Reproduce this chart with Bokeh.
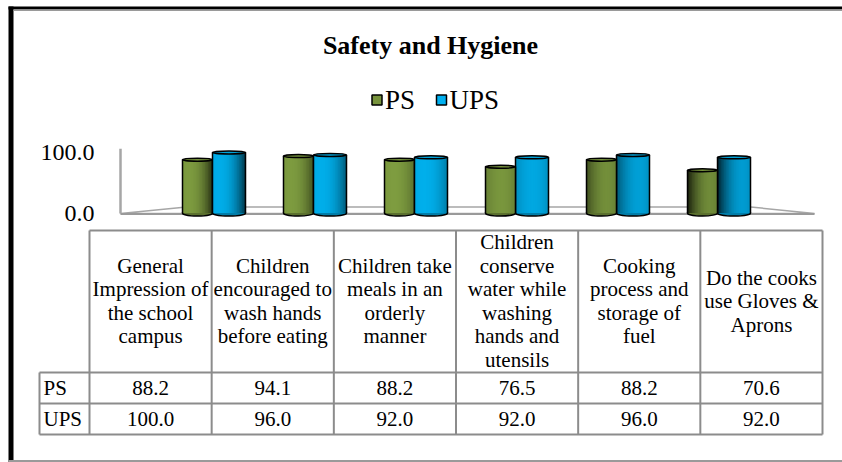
from bokeh.plotting import figure
from bokeh.models import Range1d, ColumnDataSource
from bokeh.embed import file_html
from bokeh.resources import INLINE
from bokeh.core.properties import value

# ---------------- data ----------------
TITLE = "Safety and Hygiene"
CATEGORIES = [
    "General\nImpression of\nthe school\ncampus",
    "Children\nencouraged to\nwash hands\nbefore eating",
    "Children take\nmeals in an\norderly\nmanner",
    "Children\nconserve\nwater while\nwashing\nhands and\nutensils",
    "Cooking\nprocess and\nstorage of\nfuel",
    "Do the cooks\nuse Gloves &\nAprons",
]
SERIES = ["PS", "UPS"]
PS = [88.2, 94.1, 88.2, 76.5, 88.2, 70.6]
UPS = [100.0, 96.0, 92.0, 92.0, 96.0, 92.0]
TICKS = [0.0, 100.0]

# ---------------- styles / layout ----------------
FONT = "Liberation Serif"
COLORS = {"PS": "#82A142", "UPS": "#00B4F2"}
LEGEND_COLORS = {"PS": "#77933C", "UPS": "#00B0F0"}
GRID = "#8c8c8c"
W, H = 842, 462

Y_ZERO = 212.5           # screen y of value 0
K = 0.605                # pixels per value unit

p = figure(width=W, height=H, output_backend="svg", toolbar_location=None,
           x_range=Range1d(0, W), y_range=Range1d(H, 0),
           min_border=0, outline_line_color=None)
p.extra_y_ranges = {"val": Range1d(-(H - Y_ZERO) / K, Y_ZERO / K)}
p.axis.visible = False
p.grid.visible = False
p.background_fill_color = "white"
p.border_fill_color = "white"

# frame of the chart area
p.quad(left=[8, 8, 13, 8], right=[13, 842, 842, 842], top=[6, 6, 9, 459.5],
       bottom=[462, 9, 10.5, 461.5],
       fill_color=["black", "black", "#9a9a9a", "#9a9a9a"], line_color=None)

# title
p.text(x=[430], y=[44.5], text=[TITLE], text_font=value(FONT), text_font_size="26px",
       text_font_style="bold", text_align="center", text_baseline="middle", text_color="black")

# legend
leg_x = [376.5, 441]
p.rect(x=leg_x, y=[99.5, 99.5], width=10, height=10, width_units="screen",
       height_units="screen", fill_color=[LEGEND_COLORS[s] for s in SERIES],
       line_color="black", line_width=1.5)
p.text(x=[x + 8 for x in leg_x], y=[99.5, 99.5], text=SERIES, text_font=value(FONT),
       text_font_size="27px", text_align="left", text_baseline="middle", text_color="black")

# value axis (ticks, axis line)
p.text(x=[94] * len(TICKS), y=TICKS, text=[f"{t:.1f}" for t in TICKS], y_range_name="val",
       text_font=value(FONT), text_font_size="24px", text_align="right",
       text_baseline="middle", text_color="black")
p.segment(x0=[120], y0=[-1], x1=[120], y1=[max(TICKS) * 1.06], y_range_name="val",
          line_color="#a6a6a6", line_width=2.5)

# floor
p.patch(x=[120, 186, 750, 814], y=[213, 206.5, 206.5, 213], fill_color="white",
        line_color="#a6a6a6", line_width=1.5)
p.segment(x0=[120], y0=[213.5], x1=[814], y1=[213.5], line_color="#9a9a9a", line_width=2)


def mix(hexc, f):
    r, g, b = int(hexc[1:3], 16), int(hexc[3:5], 16), int(hexc[5:7], 16)
    if f >= 1:
        t = f - 1
        r, g, b = [int(c + (255 - c) * t) for c in (r, g, b)]
    else:
        r, g, b = [int(c * f) for c in (r, g, b)]
    return "#%02x%02x%02x" % (max(0, min(255, r)), max(0, min(255, g)), max(0, min(255, b)))


N_STRIPS = 20
GROUP_X0, GROUP_STEP = 212, 101
n = len(CATEGORIES)


def cylinder(left, right, v, base, r):
    # r in [-1, 1]: position of group (left -> dark right edge, right -> dark left edge)
    dl = 0.10 + max(0.0, r) * 0.75
    dr = 0.25 + max(0.0, -r) * 0.5
    ls, rs, cs = [], [], []
    w = (right - left) / N_STRIPS
    for j in range(N_STRIPS):
        t = (j + 0.5) / N_STRIPS
        f = 1.0 - dl * (1 - t) ** 2.0 - dr * t ** 2.5 + 0.04
        if f > 1:
            f = 1 + (f - 1) * 1.5
        ls.append(left + j * w)
        rs.append(left + (j + 1) * w + 1.0 if j < N_STRIPS - 1 else right)
        cs.append(mix(base, f))
    cx = (left + right) / 2
    p.ellipse(x=[cx], y=[0], width=right - left, height=6, height_units="screen",
              y_range_name="val", fill_color=mix(base, 0.7), line_color="black", line_width=1.5)
    src = ColumnDataSource(dict(l=ls, r=rs, c=cs, t=[v] * N_STRIPS, b=[0] * N_STRIPS))
    p.quad(left="l", right="r", top="t", bottom="b", fill_color="c", line_color=None,
           source=src, y_range_name="val")
    p.segment(x0=[left, right], y0=[0, 0], x1=[left, right], y1=[v, v], y_range_name="val",
              line_color="black", line_width=1.5)
    p.ellipse(x=[cx], y=[v], width=right - left, height=3, height_units="screen",
              y_range_name="val", fill_color=mix(base, 0.9), line_color="black", line_width=1.5)


for i in range(n):
    c = GROUP_X0 + GROUP_STEP * i
    r = (i - (n - 1) / 2) / ((n - 1) / 2)
    bars = [("PS", PS[i], c - 30, c), ("UPS", UPS[i], c, c + 33)]
    # draw the farther cylinder first
    order = bars if i < 3 else bars[::-1]
    for s, v, l, rr in order:
        cylinder(l, rr, v, COLORS[s], r)

# ---------------- data table ----------------
T_LEFT, T_RIGHT, LBL_LEFT = 89, 822, 39
HDR_TOP, ROW_TOPS = 230, [372, 403, 434]
col_w = (T_RIGHT - T_LEFT) / n
col_edges = [T_LEFT + col_w * k for k in range(n + 1)]
col_centers = [T_LEFT + col_w * (k + 0.5) for k in range(n)]

# horizontal lines
p.segment(x0=[T_LEFT] + [LBL_LEFT] * 3, y0=[HDR_TOP] + ROW_TOPS,
          x1=[T_RIGHT] * 4, y1=[HDR_TOP] + ROW_TOPS, line_color=GRID, line_width=2)
# vertical lines
p.segment(x0=col_edges + [LBL_LEFT], y0=[HDR_TOP] * (n + 1) + [ROW_TOPS[0]],
          x1=col_edges + [LBL_LEFT], y1=[ROW_TOPS[-1]] * (n + 2), line_color=GRID, line_width=2)

# header text
hx, hy, ht = [], [], []
hdr_mid = (HDR_TOP + ROW_TOPS[0]) / 2 - 0.5
LH = 23.5
for k, lab in enumerate(CATEGORIES):
    lines = lab.split("\n")
    m = len(lines)
    for q, ln in enumerate(lines):
        hx.append(col_centers[k])
        hy.append(hdr_mid + (q - (m - 1) / 2) * LH)
        ht.append(ln)
p.text(x=hx, y=hy, text=ht, text_font=value(FONT), text_font_size="21px",
       text_align="center", text_baseline="middle", text_color="black")

# row labels and values
for ri, (s, vals) in enumerate(zip(SERIES, [PS, UPS])):
    ymid = (ROW_TOPS[ri] + ROW_TOPS[ri + 1]) / 2 - 0.5
    p.text(x=[LBL_LEFT + 4], y=[ymid], text=[s], text_font=value(FONT), text_font_size="21px",
           text_align="left", text_baseline="middle", text_color="black")
    p.text(x=col_centers, y=[ymid] * n, text=[f"{v:.1f}" for v in vals], text_font=value(FONT),
           text_font_size="21px", text_align="center", text_baseline="middle", text_color="black")

open("out.html", "w").write(file_html(p, INLINE))
